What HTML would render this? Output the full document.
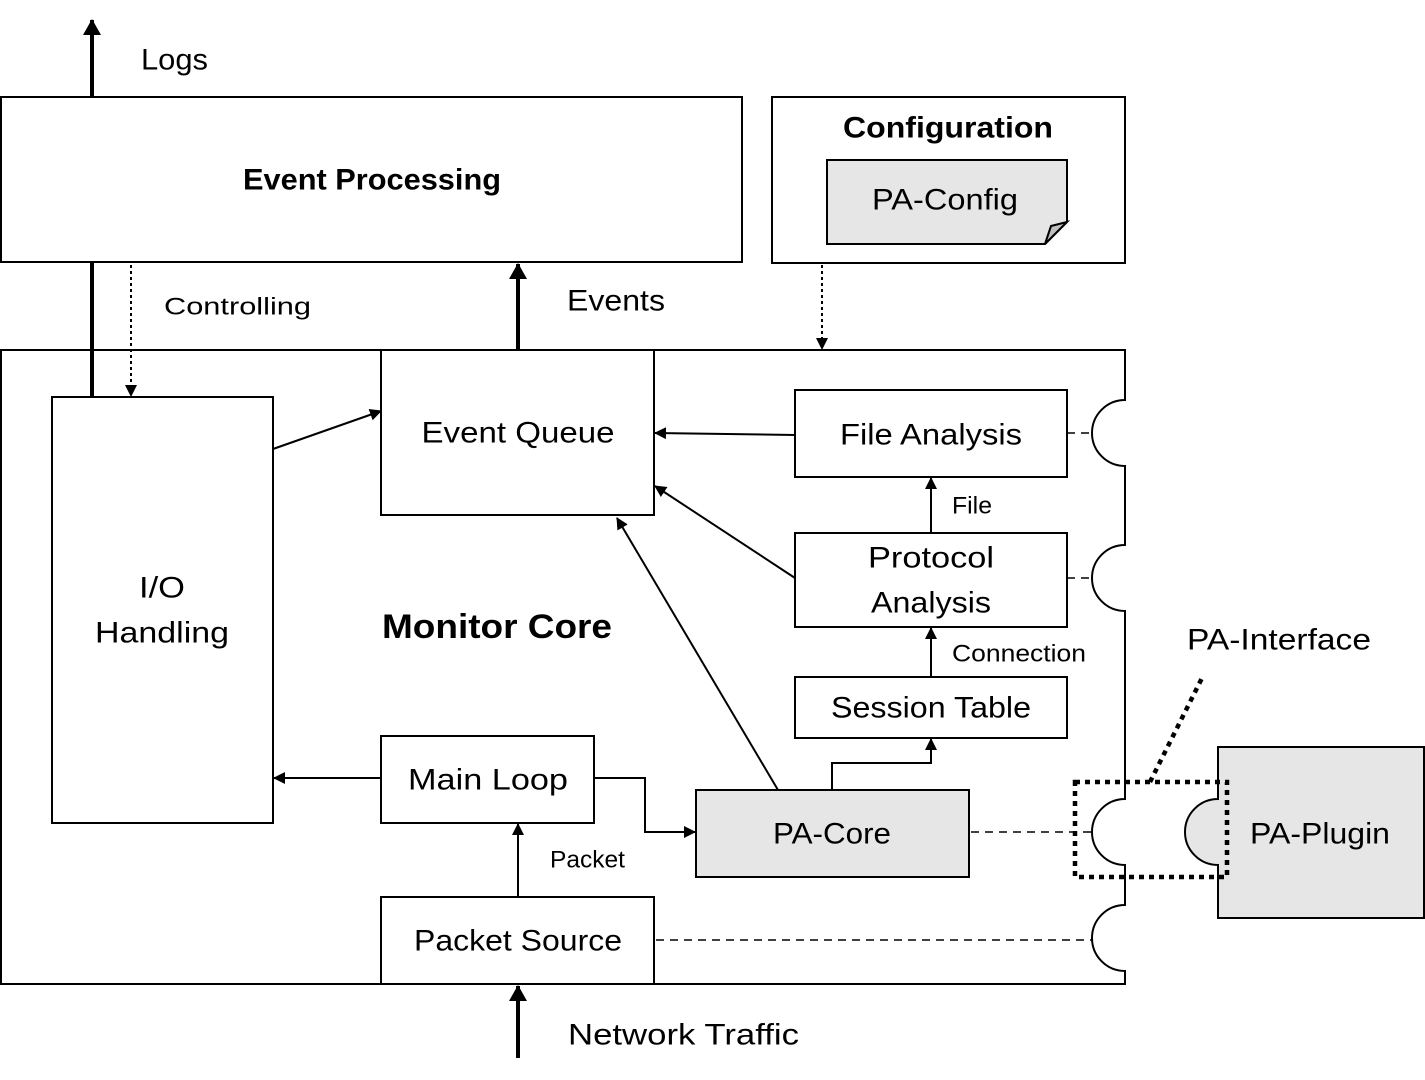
<!DOCTYPE html>
<html><head><meta charset="utf-8"><style>
html,body{margin:0;padding:0;background:#fff;}
svg{display:block;}
text{font-family:"Liberation Sans",sans-serif;fill:#000;}
</style></head><body>
<svg width="1425" height="1080" viewBox="0 0 1425 1080" xmlns="http://www.w3.org/2000/svg">
<defs>
<marker id="a" markerWidth="12" markerHeight="12" refX="11" refY="6" orient="auto" markerUnits="userSpaceOnUse"><path d="M0,0 L12,6 L0,12 z" fill="#000"/></marker>
<marker id="ab" markerWidth="16" markerHeight="18" refX="15" refY="9" orient="auto" markerUnits="userSpaceOnUse"><path d="M0,0 L16,9 L0,18 z" fill="#000"/></marker>
</defs>
<g fill="none" stroke="#000" stroke-width="2">
<rect x="1" y="97" width="741" height="165"/>
<rect x="772" y="97" width="353" height="166"/>
<path d="M827,160 H1067 V222 L1045,244 H827 Z" fill="#e6e6e6"/>
<path d="M1045,244 L1051,226 L1067,222 Z" fill="#bfbfbf"/>
<path d="M1,350 H1125 V400 A33,33 0 0 0 1125,466 V545 A33,33 0 0 0 1125,611 V799 A33,33 0 0 0 1125,865 V905 A33,33 0 0 0 1125,971 V984 H1 Z"/>
<rect x="52" y="397" width="221" height="426"/>
<rect x="381" y="350" width="273" height="165"/>
<rect x="795" y="390" width="272" height="87"/>
<rect x="795" y="533" width="272" height="94"/>
<rect x="795" y="677" width="272" height="61"/>
<rect x="381" y="736" width="213" height="87"/>
<rect x="696" y="790" width="273" height="87" fill="#e6e6e6"/>
<rect x="381" y="897" width="273" height="87"/>
<path d="M1218,747 H1424 V918 H1218 V865 A33,33 0 0 1 1218,799 Z" fill="#e6e6e6"/>
<line x1="273" y1="449" x2="381" y2="411" marker-end="url(#a)"/>
<line x1="795" y1="435" x2="655" y2="433" marker-end="url(#a)"/>
<line x1="795" y1="578" x2="655" y2="486" marker-end="url(#a)"/>
<line x1="778" y1="790" x2="617" y2="518" marker-end="url(#a)"/>
<line x1="931" y1="533" x2="931" y2="478" marker-end="url(#a)"/>
<line x1="931" y1="677" x2="931" y2="628" marker-end="url(#a)"/>
<path d="M832,790 V763 H931 V739" marker-end="url(#a)"/>
<path d="M594,778 H645 V832 H695" marker-end="url(#a)"/>
<line x1="381" y1="778" x2="274" y2="778" marker-end="url(#a)"/>
<line x1="518" y1="897" x2="518" y2="824" marker-end="url(#a)"/>
<g stroke-width="4">
<line x1="92" y1="97" x2="92" y2="20" marker-end="url(#ab)"/>
<line x1="92" y1="262" x2="92" y2="397"/>
<line x1="518" y1="350" x2="518" y2="264" marker-end="url(#ab)"/>
<line x1="518" y1="1058" x2="518" y2="986" marker-end="url(#ab)"/>
</g>
<g stroke-dasharray="3,3">
<line x1="131" y1="265" x2="131" y2="396" marker-end="url(#a)"/>
<line x1="822" y1="265" x2="822" y2="349" marker-end="url(#a)"/>
</g>
<g stroke-dasharray="8,6" stroke-width="1.5">
<line x1="1067" y1="433" x2="1092" y2="433"/>
<line x1="1067" y1="578" x2="1092" y2="578"/>
<line x1="971" y1="832" x2="1092" y2="832"/>
<line x1="656" y1="940" x2="1092" y2="940"/>
</g>
<g stroke-width="4.5" stroke-dasharray="5,5">
<rect x="1075" y="782" width="152" height="95"/>
<line x1="1150" y1="782" x2="1202" y2="678"/>
</g>
</g>
<g font-size="30" text-anchor="middle" dominant-baseline="central">
<text x="372" y="180" font-weight="bold" textLength="258" lengthAdjust="spacingAndGlyphs">Event Processing</text>
<text x="948" y="128" font-weight="bold" textLength="210" lengthAdjust="spacingAndGlyphs">Configuration</text>
<text x="945" y="200" textLength="146" lengthAdjust="spacingAndGlyphs">PA-Config</text>
<text x="497" y="627" font-weight="bold" textLength="230" lengthAdjust="spacingAndGlyphs" font-size="34">Monitor Core</text>
<text x="518" y="433" textLength="193" lengthAdjust="spacingAndGlyphs">Event Queue</text>
<text x="931" y="435" textLength="182" lengthAdjust="spacingAndGlyphs">File Analysis</text>
<text x="931" y="558" textLength="126" lengthAdjust="spacingAndGlyphs">Protocol</text>
<text x="931" y="603" textLength="120" lengthAdjust="spacingAndGlyphs">Analysis</text>
<text x="931" y="708" textLength="200" lengthAdjust="spacingAndGlyphs">Session Table</text>
<text x="488" y="780" textLength="160" lengthAdjust="spacingAndGlyphs">Main Loop</text>
<text x="832" y="834" textLength="118" lengthAdjust="spacingAndGlyphs">PA-Core</text>
<text x="518" y="941" textLength="208" lengthAdjust="spacingAndGlyphs">Packet Source</text>
<text x="1320" y="834" textLength="140" lengthAdjust="spacingAndGlyphs">PA-Plugin</text>
<text x="162" y="588" textLength="46" lengthAdjust="spacingAndGlyphs">I/O</text>
<text x="162" y="633" textLength="134" lengthAdjust="spacingAndGlyphs">Handling</text>
</g>
<g font-size="30" dominant-baseline="central">
<text x="141" y="60" textLength="67" lengthAdjust="spacingAndGlyphs">Logs</text>
<text x="567" y="301" textLength="98" lengthAdjust="spacingAndGlyphs">Events</text>
<text x="568" y="1035" textLength="231" lengthAdjust="spacingAndGlyphs">Network Traffic</text>
<text x="1187" y="640" textLength="184" lengthAdjust="spacingAndGlyphs">PA-Interface</text>
</g>
<g font-size="24" dominant-baseline="central">
<text x="164" y="307" textLength="147" lengthAdjust="spacingAndGlyphs">Controlling</text>
<text x="952" y="506" textLength="40" lengthAdjust="spacingAndGlyphs">File</text>
<text x="952" y="654" textLength="134" lengthAdjust="spacingAndGlyphs">Connection</text>
<text x="550" y="860" textLength="75" lengthAdjust="spacingAndGlyphs">Packet</text>
</g>
</svg>
</body></html>
